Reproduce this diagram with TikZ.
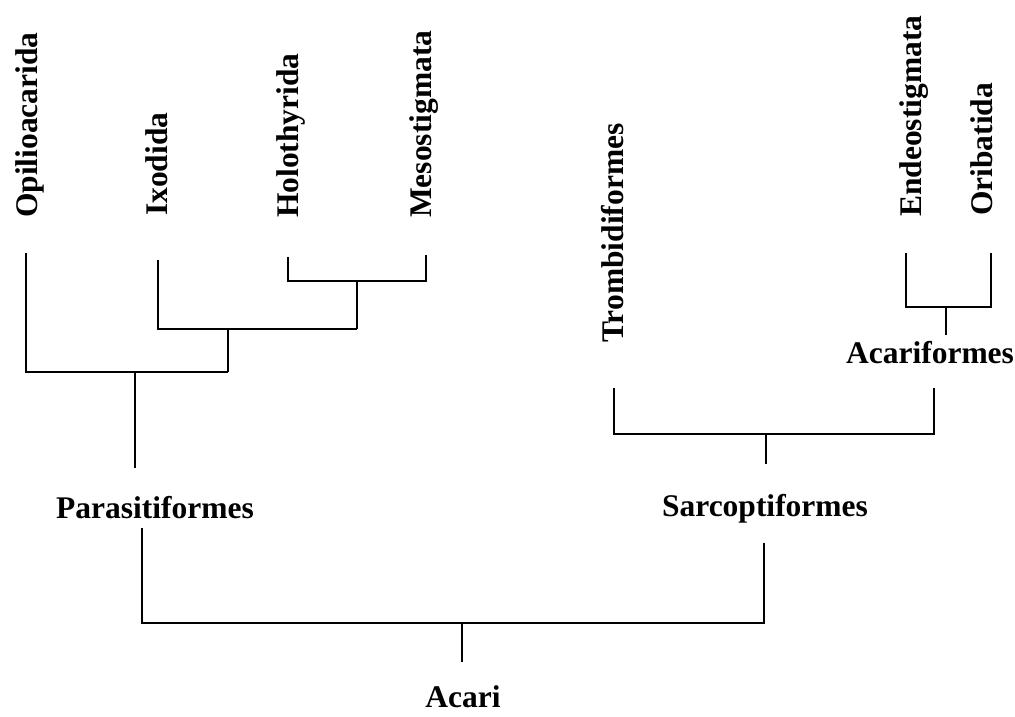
\documentclass[tikz,border=0pt]{standalone}
\usepackage{fontspec}
\setmainfont{Liberation Serif}
\begin{document}
\begin{tikzpicture}[x=1pt,y=-1pt,
  taxon/.style={inner sep=0pt, font=\fontsize{31.5}{37}\selectfont\bfseries},
  leaf/.style={taxon, rotate=90, anchor=base west},
  clade/.style={taxon, anchor=base},
  branch/.style={line width=2.7pt, line join=miter}]
\useasboundingbox (0,0) rectangle (1015,717);
% labels
\node[leaf] (opi) at (37,218) {Opilioacarida};
\node[leaf] (ixo) at (167,216) {Ixodida};
\node[leaf] (hol) at (298,218) {Holothyrida};
\node[leaf] (mes) at (431,218) {Mesostigmata};
\node[leaf] (tro) at (623,343) {Trombidiformes};
\node[leaf] (end) at (921,217) {Endeostigmata};
\node[leaf] (ori) at (992,216) {Oribatida};
\node[clade] (par) at (155,518) {Parasitiformes};
\node[clade] (sar) at (765,516) {Sarcoptiformes};
\node[clade] (aca) at (930,363) {Acariformes};
\node[clade] (acr) at (463,707) {Acari};
% branch points
\coordinate (opT) at (26,253);
\coordinate (ixT) at (158,260);
\coordinate (hoT) at (288,257);
\coordinate (meT) at (426,255);
\coordinate (hmJ) at (357,281);
\coordinate (hmS) at (357,329);
\coordinate (ixJ) at (228,329);
\coordinate (ixS) at (228,372);
\coordinate (opJ) at (135,372);
\coordinate (opS) at (135,468);
\coordinate (paB) at (142,528);
\coordinate (saB) at (764,623);
\coordinate (saT) at (764,543);
\coordinate (acJ) at (462,623);
\coordinate (acS) at (462,662);
\coordinate (enT) at (906,253);
\coordinate (orT) at (991,253);
\coordinate (eoJ) at (946,307);
\coordinate (eoS) at (946,335);
\coordinate (trT) at (614,388);
\coordinate (afT) at (934,388);
\coordinate (taJ) at (766,434);
\coordinate (taS) at (766,464);
% Parasitiformes
\draw[branch] (hoT) |- (hmJ) -| (meT);
\draw[branch] (hmJ) -- (hmS);
\draw[branch] (ixT) |- (hmS);
\draw[branch] (ixJ) -- (ixS);
\draw[branch] (opT) |- (ixS);
\draw[branch] (opJ) -- (opS);
% Acariformes / Sarcoptiformes
\draw[branch] (enT) |- (eoJ) -| (orT);
\draw[branch] (eoJ) -- (eoS);
\draw[branch] (trT) |- (taJ) -| (afT);
\draw[branch] (taJ) -- (taS);
% Acari
\draw[branch] (paB) |- (saB) -- (saT);
\draw[branch] (acJ) -- (acS);
\end{tikzpicture}
\end{document}
